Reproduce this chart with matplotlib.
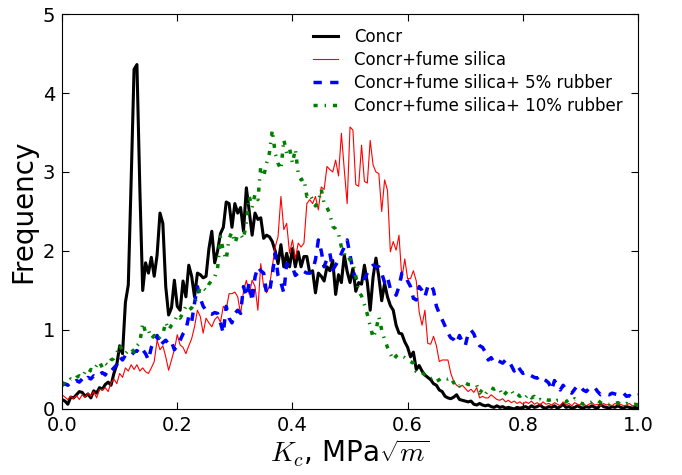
import numpy as np
import matplotlib
matplotlib.use("Agg")
import matplotlib.pyplot as plt

plt.rcParams['mathtext.fontset'] = 'cm'
plt.rcParams['lines.scale_dashes'] = False

# bin centres of the K_c histograms (0 .. 1, step 0.005)
k_c = np.linspace(0, 1, 201)

concr = [
    0.12, 0.10, 0.06, 0.15, 0.14, 0.18, 0.22, 0.21, 0.16, 0.19,
    0.14, 0.23, 0.20, 0.27, 0.25, 0.31, 0.34, 0.30, 0.45, 0.56,
    0.80, 0.70, 1.35, 1.57, 2.90, 4.30, 4.36, 2.80, 1.50, 1.85,
    1.72, 1.92, 1.68, 1.95, 2.48, 2.35, 1.55, 1.19, 1.28, 1.63,
    1.30, 1.25, 1.62, 1.42, 1.82, 1.68, 1.42, 1.72, 1.70, 1.66,
    1.68, 2.03, 2.25, 1.85, 2.00, 2.22, 2.30, 2.62, 2.60, 2.30,
    2.60, 2.48, 2.55, 2.25, 2.80, 2.50, 2.20, 2.48, 2.40, 2.42,
    2.16, 2.20, 2.18, 2.12, 2.00, 1.84, 2.08, 1.80, 1.97, 1.80,
    2.03, 1.80, 1.99, 1.80, 1.93, 1.93, 1.72, 1.75, 1.47, 1.72,
    1.68, 1.62, 1.80, 1.75, 1.88, 1.45, 1.70, 1.60, 1.95, 1.74,
    1.60, 1.78, 1.49, 1.60, 1.58, 1.82, 1.60, 1.25, 1.67, 1.91,
    1.67, 1.37, 1.59, 1.42, 1.31, 1.25, 1.06, 0.96, 0.95, 0.85,
    0.78, 0.66, 0.72, 0.50, 0.55, 0.48, 0.43, 0.40, 0.37, 0.32,
    0.30, 0.24, 0.22, 0.16, 0.14, 0.13, 0.15, 0.18, 0.12, 0.11,
    0.10, 0.09, 0.10, 0.06, 0.05, 0.07, 0.05, 0.04, 0.05, 0.03,
    0.02, 0.04, 0.02, 0.03, 0.01, 0.02, 0.01, 0.00, 0.02, 0.01,
    0.02, 0.03, 0.01, 0.04, 0.02, 0.03, 0.05, 0.02, 0.01, 0.03,
    0.02, 0.04, 0.01, 0.03, 0.06, 0.02, 0.03, 0.01, 0.02, 0.04,
    0.02, 0.01, 0.03, 0.02, 0.04, 0.02, 0.01, 0.06, 0.03, 0.02,
    0.01, 0.03, 0.02, 0.04, 0.02, 0.01, 0.03, 0.02, 0.01, 0.02,
    0.01]

fume_silica = [
    0.18, 0.15, 0.12, 0.16, 0.13, 0.17, 0.12, 0.18, 0.15, 0.20,
    0.16, 0.22, 0.14, 0.25, 0.24, 0.27, 0.22, 0.33, 0.38, 0.32,
    0.45, 0.40, 0.52, 0.48, 0.56, 0.50, 0.56, 0.48, 0.52, 0.47,
    0.45, 0.52, 0.60, 0.87, 0.75, 0.80, 0.66, 0.49, 0.62, 0.75,
    0.94, 0.81, 0.78, 0.70, 0.80, 0.89, 1.04, 1.25, 1.17, 0.96,
    1.15, 1.09, 1.04, 1.13, 1.17, 1.10, 1.30, 1.26, 1.46, 1.46,
    1.48, 1.42, 1.20, 1.49, 1.63, 1.45, 1.63, 1.55, 1.25, 1.84,
    1.55, 1.47, 1.55, 1.80, 2.05, 2.18, 2.69, 2.27, 2.35, 1.97,
    2.14, 1.90, 2.10, 2.05, 2.10, 2.60, 2.65, 2.60, 2.69, 2.52,
    2.81, 2.78, 3.07, 3.03, 3.00, 3.15, 2.95, 3.49, 3.03, 2.60,
    3.57, 3.53, 2.84, 2.82, 3.34, 2.88, 2.86, 3.40, 3.09, 3.00,
    2.98, 2.50, 2.90, 2.77, 1.99, 2.12, 2.01, 2.20, 1.65, 1.90,
    1.65, 1.65, 1.75, 1.62, 1.23, 1.06, 1.25, 0.83, 0.82, 0.92,
    0.80, 0.60, 0.62, 0.62, 0.62, 0.45, 0.35, 0.30, 0.28, 0.30,
    0.26, 0.22, 0.25, 0.21, 0.27, 0.14, 0.16, 0.14, 0.14, 0.18,
    0.15, 0.12, 0.11, 0.13, 0.09, 0.11, 0.08, 0.10, 0.07, 0.09,
    0.06, 0.09, 0.07, 0.10, 0.06, 0.08, 0.05, 0.09, 0.06, 0.07,
    0.05, 0.08, 0.06, 0.04, 0.09, 0.05, 0.07, 0.04, 0.08, 0.06,
    0.05, 0.07, 0.04, 0.06, 0.08, 0.05, 0.06, 0.04, 0.07, 0.05,
    0.06, 0.04, 0.07, 0.05, 0.06, 0.04, 0.05, 0.07, 0.04, 0.05,
    0.05]

rubber_5 = [
    0.30, 0.32, 0.30, 0.34, 0.33, 0.36, 0.34, 0.38, 0.35, 0.40,
    0.38, 0.42, 0.40, 0.44, 0.46, 0.43, 0.50, 0.48, 0.52, 0.56,
    0.66, 0.62, 0.68, 0.70, 0.68, 0.72, 0.74, 0.70, 0.75, 0.70,
    0.62, 0.78, 0.86, 0.93, 0.80, 0.84, 0.87, 0.82, 0.85, 0.75,
    0.80, 0.87, 0.95, 1.00, 1.17, 1.10, 1.34, 1.55, 1.40, 1.30,
    1.25, 1.21, 1.20, 1.22, 1.21, 1.09, 0.96, 1.30, 1.15, 1.09,
    1.21, 1.25, 1.21, 1.55, 1.42, 1.60, 1.36, 1.67, 1.80, 1.75,
    1.72, 1.47, 1.47, 1.70, 1.97, 1.69, 1.60, 1.47, 1.84, 1.80,
    1.80, 1.69, 1.72, 1.76, 1.74, 1.72, 1.72, 1.75, 1.89, 2.14,
    2.00, 1.80, 1.90, 1.97, 1.76, 1.82, 1.88, 1.97, 2.05, 2.14,
    1.95, 1.75, 1.65, 1.70, 1.68, 1.65, 1.72, 1.78, 1.82, 1.80,
    1.80, 1.72, 1.60, 1.67, 1.52, 1.50, 1.44, 1.55, 1.72, 1.70,
    1.62, 1.55, 1.40, 1.38, 1.55, 1.50, 1.42, 1.55, 1.58, 1.50,
    1.30, 1.21, 1.13, 1.05, 0.96, 0.90, 0.88, 0.83, 0.93, 0.85,
    0.80, 0.95, 1.00, 0.95, 0.85, 0.80, 0.78, 0.72, 0.62, 0.65,
    0.59, 0.62, 0.60, 0.58, 0.62, 0.62, 0.55, 0.48, 0.55, 0.50,
    0.45, 0.47, 0.44, 0.42, 0.40, 0.39, 0.42, 0.38, 0.36, 0.33,
    0.24, 0.36, 0.30, 0.24, 0.30, 0.25, 0.22, 0.20, 0.25, 0.30,
    0.28, 0.24, 0.22, 0.26, 0.28, 0.27, 0.22, 0.18, 0.20, 0.19,
    0.18, 0.20, 0.19, 0.18, 0.18, 0.20, 0.16, 0.17, 0.14, 0.16,
    0.18]

rubber_10 = [
    0.30, 0.34, 0.33, 0.38, 0.36, 0.40, 0.42, 0.40, 0.47, 0.44,
    0.50, 0.48, 0.55, 0.60, 0.52, 0.58, 0.55, 0.62, 0.64, 0.70,
    0.81, 0.73, 0.70, 0.74, 0.77, 0.72, 0.80, 0.84, 1.09, 0.97,
    1.00, 0.89, 0.93, 0.88, 0.91, 0.95, 1.10, 1.00, 1.06, 1.10,
    1.19, 1.15, 1.22, 1.30, 1.25, 1.28, 1.35, 1.42, 1.55, 1.53,
    1.50, 1.58, 1.63, 1.67, 1.78, 2.18, 2.00, 1.89, 2.16, 2.24,
    2.10, 2.20, 2.21, 2.15, 2.37, 2.69, 2.55, 2.72, 2.65, 3.07,
    2.94, 3.11, 3.24, 3.53, 3.24, 3.11, 3.03, 3.41, 3.24, 3.30,
    3.11, 3.29, 2.98, 2.90, 2.92, 2.69, 2.72, 2.65, 2.57, 2.62,
    2.78, 2.60, 2.55, 2.47, 2.31, 2.28, 2.22, 2.05, 1.97, 1.88,
    1.90, 1.84, 1.68, 1.49, 1.43, 1.32, 1.20, 1.05, 0.90, 1.00,
    1.17, 1.00, 0.88, 0.78, 0.70, 0.62, 0.67, 0.69, 0.66, 0.65,
    0.62, 0.60, 0.58, 0.47, 0.44, 0.46, 0.43, 0.41, 0.38, 0.40,
    0.35, 0.37, 0.40, 0.39, 0.38, 0.40, 0.33, 0.35, 0.29, 0.33,
    0.33, 0.31, 0.31, 0.30, 0.30, 0.20, 0.25, 0.19, 0.24, 0.27,
    0.25, 0.27, 0.25, 0.16, 0.20, 0.24, 0.24, 0.17, 0.19, 0.16,
    0.19, 0.15, 0.19, 0.14, 0.16, 0.11, 0.12, 0.10, 0.12, 0.11,
    0.12, 0.09, 0.11, 0.11, 0.10, 0.09, 0.12, 0.10, 0.13, 0.10,
    0.08, 0.06, 0.08, 0.07, 0.09, 0.10, 0.11, 0.08, 0.06, 0.07,
    0.06, 0.08, 0.07, 0.08, 0.06, 0.05, 0.07, 0.06, 0.05, 0.06,
    0.05]

labels = ['Concr', 'Concr+fume silica', 'Concr+fume silica+ 5% rubber',
          'Concr+fume silica+ 10% rubber']

fig = plt.figure(figsize=(6.82, 4.75), dpi=100)
ax = fig.add_axes([0.091, 0.139, 0.8445, 0.8315])

ax.plot(k_c, concr, color='k', lw=2.2, label=labels[0])
ax.plot(k_c, fume_silica, color='r', lw=0.8, label=labels[1])
ax.plot(k_c, rubber_5, color='b', lw=2.5, ls='--', dashes=(6, 6), label=labels[2])
ax.plot(k_c, rubber_10, color='g', lw=2.5, ls='-.', dashes=(3, 5, 1, 5), label=labels[3])

ax.set_xlim(0, 1)
ax.set_ylim(0, 5)
ax.set_xticks([0.0, 0.2, 0.4, 0.6, 0.8, 1.0])
ax.set_yticks([0, 1, 2, 3, 4, 5])
ax.tick_params(direction='in', top=True, right=True, labelsize=14,
               length=5, width=0.8, pad=5)
ax.set_xlabel(r'$K_c$, MPa$\sqrt{m}$', fontsize=20, labelpad=2)
ax.set_ylabel('Frequency', fontsize=20)

ax.legend(loc='upper right', frameon=False, fontsize=12, handlelength=1.5,
          handletextpad=1.0, labelspacing=0.3, bbox_to_anchor=(1.0, 1.003))

fig.savefig('out.png', dpi=100)
